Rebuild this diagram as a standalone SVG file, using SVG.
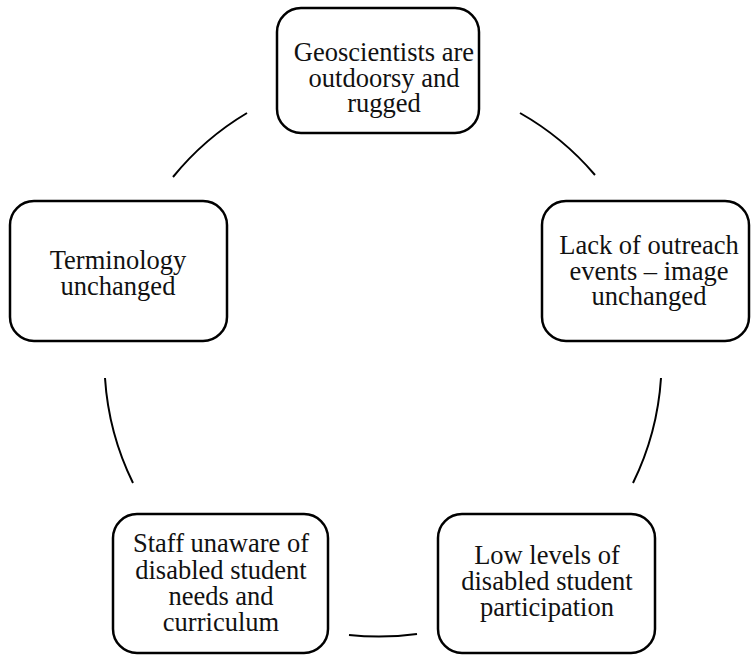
<svg xmlns="http://www.w3.org/2000/svg" width="751" height="655" viewBox="0 0 751 655">
<style>
.box{fill:#fff;stroke:#000;stroke-width:2.5}
.lbl{font-family:"Liberation Serif","Times New Roman",serif;font-size:26.5px;fill:#111;text-anchor:middle}
.arc{fill:none;stroke:#000;stroke-width:2}
</style>
<rect width="751" height="655" fill="#fff"/>
<g id="connectors">
<path class="arc" d="M173,177 A279,279 0 0 1 247,113"/>
<path class="arc" d="M520,113 A279,279 0 0 1 595,175"/>
<path class="arc" d="M661,378 A279,279 0 0 1 633,483"/>
<path class="arc" d="M417,634 A279,279 0 0 1 349,635"/>
<path class="arc" d="M133,483 A279,279 0 0 1 105,378"/>
</g>
<g id="node1">
<rect class="box" x="277" y="8" width="202" height="125" rx="24"/>
<text class="lbl" x="384" y="61">Geoscientists are</text>
<text class="lbl" x="384" y="86.5">outdoorsy and</text>
<text class="lbl" x="384" y="112">rugged</text>
</g>
<g id="node2">
<rect class="box" x="542" y="201" width="207" height="140" rx="24"/>
<text class="lbl" x="649" y="254">Lack of outreach</text>
<text class="lbl" x="649" y="279.5">events – image</text>
<text class="lbl" x="649" y="305">unchanged</text>
</g>
<g id="node3">
<rect class="box" x="10" y="201" width="217" height="140" rx="24"/>
<text class="lbl" x="118" y="269">Terminology</text>
<text class="lbl" x="118" y="295">unchanged</text>
</g>
<g id="node4">
<rect class="box" x="113" y="514" width="215" height="139" rx="24"/>
<text class="lbl" x="221" y="552">Staff unaware of</text>
<text class="lbl" x="221" y="578.5">disabled student</text>
<text class="lbl" x="221" y="605">needs and</text>
<text class="lbl" x="221" y="631">curriculum</text>
</g>
<g id="node5">
<rect class="box" x="438" y="514" width="217" height="139" rx="24"/>
<text class="lbl" x="547" y="564">Low levels of</text>
<text class="lbl" x="547" y="590">disabled student</text>
<text class="lbl" x="547" y="616">participation</text>
</g>
</svg>
